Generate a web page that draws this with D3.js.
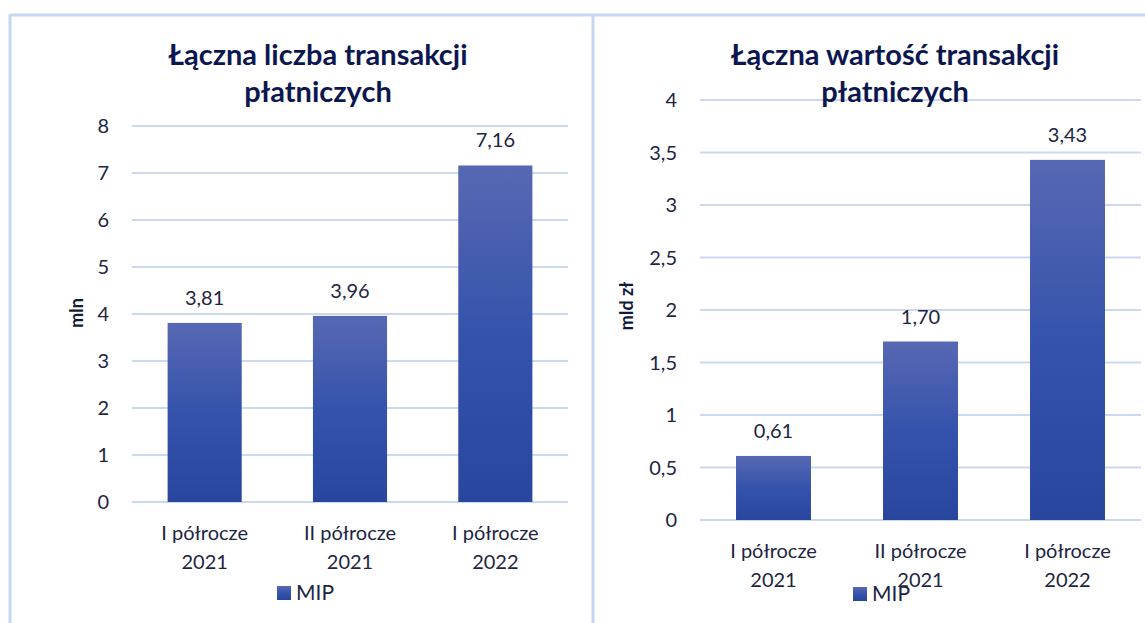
<!DOCTYPE html>
<html>
<head>
  <meta charset="utf-8">
  <title>Transakcje płatnicze MIP</title>
  <script src="https://d3js.org/d3.v7.min.js"></script>
  <style>
    body { margin: 0; background: #fff; }
    text { font-family: Lato, "Open Sans", sans-serif; fill: #1d2542; }
    .title { font-weight: 700; font-size: 29px; fill: #0c1750; }
    .grid line { stroke: #cbd8f1; stroke-width: 2px; }
    .frame { stroke: #c7d6f2; stroke-width: 3px; fill: none; }
  </style>
</head>
<body>
  <svg id="chart" width="1145" height="623"></svg>

  <script>
    // data
    const categories = [["I półrocze", "2021"], ["II półrocze", "2021"], ["I półrocze", "2022"]];
    const seriesName = "MIP";
    const countValues = [3.81, 3.96, 7.16];   // mln
    const amountValues = [0.61, 1.70, 3.43];  // mld zł
    const countTicks = [0, 1, 2, 3, 4, 5, 6, 7, 8];
    const amountTicks = [0, 0.5, 1, 1.5, 2, 2.5, 3, 3.5, 4];

    const pl = d3.formatLocale({ decimal: ",", thousands: " ", grouping: [3], currency: ["", " zł"] });
    const fmtValue = pl.format(".2f");
    const fmtTick = v => pl.format("")(v);

    const svg = d3.select("#chart");

    // gradient for the bars
    const grad = svg.append("defs").append("linearGradient")
      .attr("id", "barGrad")
      .attr("x1", 0).attr("y1", 0).attr("x2", 0).attr("y2", 1);
    grad.append("stop").attr("offset", "0%").attr("stop-color", "#5768b3");
    grad.append("stop").attr("offset", "50%").attr("stop-color", "#3553ac");
    grad.append("stop").attr("offset", "100%").attr("stop-color", "#28469e");

    // panel frame (table-like lines)
    svg.append("line").attr("class", "frame").attr("x1", 10).attr("x2", 1145).attr("y1", 15).attr("y2", 15);
    svg.append("line").attr("class", "frame").attr("x1", 10).attr("x2", 10).attr("y1", 14).attr("y2", 623);
    svg.append("line").attr("class", "frame").attr("x1", 593).attr("x2", 593).attr("y1", 14).attr("y2", 623);

    function drawPanel(opt) {
      const g = svg.append("g");

      const x = d3.scaleBand()
        .domain(categories.map((d, i) => i))
        .range([opt.left, opt.right])
        .paddingInner(0.49)
        .paddingOuter(0.245);

      const y = d3.scaleLinear()
        .domain(opt.domain)
        .range([opt.bottom, opt.top]);

      // gridlines
      g.append("g").attr("class", "grid")
        .selectAll("line").data(opt.ticks)
        .join("line")
        .attr("x1", opt.left).attr("x2", opt.right)
        .attr("y1", d => y(d)).attr("y2", d => y(d));

      // tick labels
      g.append("g")
        .selectAll("text").data(opt.ticks)
        .join("text")
        .attr("x", opt.left - 23)
        .attr("y", d => y(d))
        .attr("dy", "0.35em")
        .attr("text-anchor", "end")
        .style("font-size", "20px")
        .text(fmtTick);

      // axis title
      g.append("text")
        .attr("transform", `translate(${opt.yLabelX},${opt.yLabelY}) rotate(-90)`)
        .attr("text-anchor", "middle")
        .attr("dy", "0.35em")
        .style("font-size", "18px")
        .style("font-weight", 700)
        .style("fill", "#111a3a")
        .text(opt.yLabel);

      // bars
      g.selectAll("rect.bar").data(opt.values)
        .join("rect")
        .attr("class", "bar")
        .attr("x", (d, i) => x(i))
        .attr("width", x.bandwidth())
        .attr("y", d => y(d))
        .attr("height", d => y(0) - y(d))
        .attr("fill", "url(#barGrad)");

      // value labels
      g.selectAll("text.val").data(opt.values)
        .join("text")
        .attr("class", "val")
        .attr("x", (d, i) => x(i) + x.bandwidth() / 2)
        .attr("y", d => y(d) - 25)
        .attr("dy", "0.35em")
        .attr("text-anchor", "middle")
        .style("font-size", "20px")
        .text(fmtValue);

      // category labels
      const cat = g.selectAll("text.cat").data(categories)
        .join("text")
        .attr("class", "cat")
        .attr("text-anchor", "middle")
        .style("font-size", "20px")
        .attr("x", (d, i) => x(i) + x.bandwidth() / 2)
        .attr("y", opt.bottom + 31);
      cat.selectAll("tspan").data(d => d)
        .join("tspan")
        .attr("x", function () { return d3.select(this.parentNode).attr("x"); })
        .attr("dy", (d, i) => i === 0 ? "0.35em" : "29px")
        .text(d => d);

      // title
      const t = g.append("text")
        .attr("class", "title")
        .attr("text-anchor", "middle")
        .attr("x", opt.titleX)
        .attr("y", 55);
      t.selectAll("tspan").data(opt.title)
        .join("tspan")
        .attr("x", opt.titleX)
        .attr("dy", (d, i) => i === 0 ? "0.35em" : "37px")
        .text(d => d);

      // legend
      const lg = g.append("g").attr("transform", `translate(${opt.legendX},${opt.legendY})`);
      lg.append("rect").attr("x", 0).attr("y", -7).attr("width", 14).attr("height", 14).attr("fill", "url(#barGrad)");
      lg.append("text").attr("x", 19).attr("dy", "0.35em").style("font-size", "21px").text(seriesName);
    }

    drawPanel({
      values: countValues, ticks: countTicks, domain: [0, 8],
      left: 132, right: 568, top: 126, bottom: 502,
      yLabel: "mln", yLabelX: 77, yLabelY: 313,
      title: ["Łączna liczba transakcji", "płatniczych"], titleX: 318,
      legendX: 277, legendY: 593
    });

    drawPanel({
      values: amountValues, ticks: amountTicks, domain: [0, 4],
      left: 700, right: 1141, top: 100, bottom: 520,
      yLabel: "mld zł", yLabelX: 627, yLabelY: 306,
      title: ["Łączna wartość transakcji", "płatniczych"], titleX: 895,
      legendX: 853, legendY: 594
    });
  </script>
</body>
</html>
